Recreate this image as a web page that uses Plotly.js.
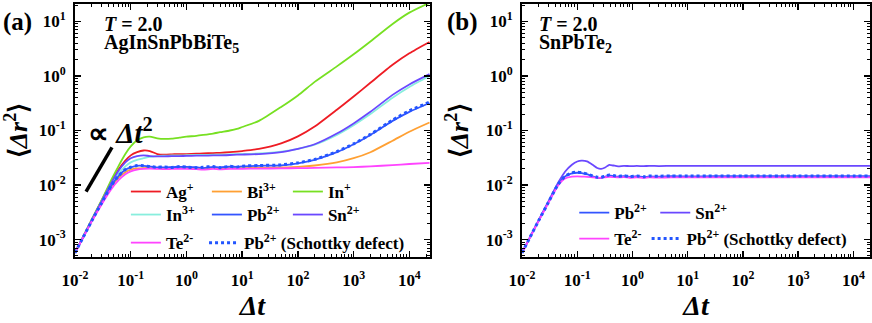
<!DOCTYPE html>
<html>
<head>
<meta charset="utf-8">
<script src="https://cdn.plot.ly/plotly-3.0.1.min.js"></script>
<style>
  html, body { margin: 0; padding: 0; background: #fff; }
  #chart { width: 872px; height: 323px; }
</style>
</head>
<body>
<div id="chart"></div>
<script>
// time grid, panel (a)
const tA = [0.01, 0.015, 0.02, 0.03, 0.045, 0.06, 0.08, 0.1, 0.13, 0.17, 0.22, 0.3, 0.4, 0.55, 0.75, 1, 1.5, 2, 3, 4, 6, 8, 10, 20, 50, 100, 200, 500, 1000, 2000, 5000, 10000, 23000];

const agA = [5.7e-4, 1.28e-3, 2.3e-3, 5.1e-3, 0.0115, 0.019, 0.028, 0.035, 0.040, 0.043, 0.042, 0.037, 0.036, 0.0365, 0.037, 0.037, 0.0375, 0.038, 0.0385, 0.039, 0.040, 0.041, 0.042, 0.046, 0.058, 0.078, 0.118, 0.24, 0.42, 0.75, 1.6, 2.6, 4.2];
const biA = [5.7e-4, 1.26e-3, 2.2e-3, 4.6e-3, 0.0093, 0.0135, 0.0172, 0.0192, 0.0202, 0.0205, 0.0205, 0.0203, 0.0203, 0.0204, 0.0204, 0.0205, 0.0204, 0.0203, 0.0204, 0.0204, 0.0205, 0.0205, 0.0205, 0.0206, 0.021, 0.0215, 0.0228, 0.026, 0.031, 0.040, 0.065, 0.095, 0.14];
const in1A = [5.7e-4, 1.3e-3, 2.35e-3, 5.3e-3, 0.0125, 0.022, 0.037, 0.051, 0.066, 0.075, 0.077, 0.072, 0.070, 0.071, 0.074, 0.077, 0.080, 0.083, 0.088, 0.093, 0.100, 0.107, 0.116, 0.15, 0.27, 0.44, 0.78, 1.5, 2.5, 4.3, 9.0, 14.5, 22];
const in3A = [5.7e-4, 1.27e-3, 2.25e-3, 4.9e-3, 0.0105, 0.016, 0.022, 0.026, 0.029, 0.031, 0.033, 0.034, 0.0345, 0.035, 0.035, 0.0352, 0.0355, 0.0357, 0.036, 0.036, 0.0365, 0.037, 0.0372, 0.038, 0.041, 0.046, 0.055, 0.083, 0.125, 0.2, 0.40, 0.63, 1.0];
const pbA = [5.7e-4, 1.26e-3, 2.2e-3, 4.7e-3, 0.0098, 0.0145, 0.019, 0.021, 0.0225, 0.0225, 0.022, 0.021, 0.021, 0.0213, 0.0215, 0.0215, 0.0212, 0.0205, 0.0215, 0.021, 0.0218, 0.0215, 0.022, 0.0225, 0.023, 0.025, 0.029, 0.040, 0.056, 0.083, 0.15, 0.22, 0.32];
const snA = [5.7e-4, 1.27e-3, 2.26e-3, 5.0e-3, 0.011, 0.018, 0.026, 0.031, 0.034, 0.035, 0.034, 0.0335, 0.0335, 0.034, 0.034, 0.0342, 0.0345, 0.0345, 0.035, 0.035, 0.0355, 0.036, 0.0362, 0.037, 0.040, 0.046, 0.056, 0.088, 0.135, 0.22, 0.45, 0.70, 1.08];
const teA = [5.7e-4, 1.25e-3, 2.15e-3, 4.4e-3, 0.0085, 0.0122, 0.0158, 0.0178, 0.0192, 0.0198, 0.02, 0.0198, 0.0196, 0.0197, 0.0198, 0.0198, 0.0195, 0.0192, 0.0197, 0.0194, 0.0198, 0.0197, 0.0198, 0.02, 0.0202, 0.0204, 0.0206, 0.021, 0.0213, 0.022, 0.0232, 0.0243, 0.0255];
const pbsA = [5.7e-4, 1.26e-3, 2.2e-3, 4.7e-3, 0.0098, 0.0146, 0.0192, 0.0212, 0.0228, 0.0226, 0.0218, 0.0212, 0.0215, 0.021, 0.0218, 0.0213, 0.0208, 0.0212, 0.0218, 0.0208, 0.022, 0.0214, 0.0222, 0.0228, 0.0234, 0.0255, 0.0295, 0.041, 0.057, 0.085, 0.155, 0.23, 0.33];

// time grid, panel (b)
const tB = [0.01, 0.015, 0.02, 0.03, 0.045, 0.06, 0.08, 0.1, 0.12, 0.15, 0.19, 0.23, 0.27, 0.32, 0.38, 0.45, 0.55, 0.7, 0.9, 1.2, 1.6, 2, 3, 5, 10, 30, 100, 1000, 10000, 23000];

const snB = [5.7e-4, 1.28e-3, 2.28e-3, 5.0e-3, 0.011, 0.0175, 0.0235, 0.027, 0.028, 0.0272, 0.0235, 0.0205, 0.0198, 0.021, 0.0235, 0.0228, 0.022, 0.0225, 0.0222, 0.0224, 0.0222, 0.0225, 0.0223, 0.0224, 0.0224, 0.0224, 0.0224, 0.0224, 0.0224, 0.0224];
const pbB = [5.7e-4, 1.27e-3, 2.22e-3, 4.8e-3, 0.0102, 0.0143, 0.0163, 0.0168, 0.0166, 0.0158, 0.0145, 0.0136, 0.0135, 0.0142, 0.015, 0.0146, 0.0142, 0.0146, 0.0141, 0.0145, 0.0139, 0.0144, 0.0142, 0.0145, 0.0144, 0.0145, 0.0145, 0.0145, 0.0145, 0.0145];
const teB = [5.7e-4, 1.26e-3, 2.2e-3, 4.7e-3, 0.0098, 0.0132, 0.0143, 0.0144, 0.0143, 0.0141, 0.0138, 0.0136, 0.0136, 0.0139, 0.0141, 0.014, 0.0138, 0.014, 0.0136, 0.0139, 0.0135, 0.0138, 0.0137, 0.0138, 0.0138, 0.0138, 0.0138, 0.0138, 0.0138, 0.0138];
const pbsB = [5.7e-4, 1.27e-3, 2.22e-3, 4.8e-3, 0.0103, 0.0145, 0.0167, 0.0172, 0.0169, 0.016, 0.0147, 0.0139, 0.0138, 0.0146, 0.0153, 0.0149, 0.0144, 0.0148, 0.0143, 0.0147, 0.0142, 0.0146, 0.0145, 0.0147, 0.0147, 0.0147, 0.0147, 0.0147, 0.0147, 0.0147];

const xTickVals = [0.01, 0.1, 1, 10, 100, 1000, 10000];
const xTickText = ['10<sup>-2</sup>', '10<sup>-1</sup>', '10<sup>0</sup>', '10<sup>1</sup>', '10<sup>2</sup>', '10<sup>3</sup>', '10<sup>4</sup>'];
const yTickVals = [0.001, 0.01, 0.1, 1, 10];
const yTickText = ['10<sup>-3</sup>', '10<sup>-2</sup>', '10<sup>-1</sup>', '10<sup>0</sup>', '10<sup>1</sup>'];

const FONT = 'Liberation Serif, Times New Roman, serif';
const C = {
  ag: '#ee1c24', bi: '#ffa033', in1: '#77e022', in3: '#88eedd',
  pb: '#3355ff', sn: '#6a48ff', te: '#ff44ff', pbs: '#2255ff'
};

function line(x, y, name, color, xa, ya, legend, dash) {
  return {
    x: x, y: y, name: name, type: 'scatter', mode: 'lines',
    xaxis: xa, yaxis: ya, legend: legend,
    line: { color: color, width: dash ? 3 : 1.8, dash: dash || 'solid', shape: 'spline', smoothing: 0.6 },
    hoverinfo: 'skip'
  };
}

const traces = [
  line(tA, agA, 'Ag<sup>+</sup>', C.ag, 'x', 'y', 'legend'),
  line(tA, biA, 'Bi<sup>3+</sup>', C.bi, 'x', 'y', 'legend'),
  line(tA, in1A, 'In<sup>+</sup>', C.in1, 'x', 'y', 'legend'),
  line(tA, in3A, 'In<sup>3+</sup>', C.in3, 'x', 'y', 'legend2'),
  line(tA, pbA, 'Pb<sup>2+</sup>', C.pb, 'x', 'y', 'legend2'),
  line(tA, snA, 'Sn<sup>2+</sup>', C.sn, 'x', 'y', 'legend2'),
  line(tA, teA, 'Te<sup>2-</sup>', C.te, 'x', 'y', 'legend3'),
  line(tA, pbsA, 'Pb<sup>2+</sup> (Schottky defect)', C.pbs, 'x', 'y', 'legend6', 'dot'),
  line(tB, pbB, 'Pb<sup>2+</sup>', C.pb, 'x2', 'y2', 'legend4'),
  line(tB, snB, 'Sn<sup>2+</sup>', C.sn, 'x2', 'y2', 'legend4'),
  line(tB, teB, 'Te<sup>2-</sup>', C.te, 'x2', 'y2', 'legend5'),
  line(tB, pbsB, 'Pb<sup>2+</sup> (Schottky defect)', C.pbs, 'x2', 'y2', 'legend7', 'dot')
];

const tickFont = { family: FONT, size: 17, weight: 'bold', color: '#000' };
const minor = { ticks: 'inside', ticklen: 3, tickcolor: '#000', tickwidth: 1, dtick: 'D1', showgrid: false };

function xAxis(domain, range) {
  return {
    type: 'log', domain: domain, range: range,
    tickvals: xTickVals, ticktext: xTickText, tickfont: tickFont, ticklabelstandoff: 7,
    ticks: 'inside', ticklen: 6, tickwidth: 1.5, tickcolor: '#000',
    showline: true, linewidth: 2, linecolor: '#000', mirror: 'ticks',
    showgrid: false, zeroline: false, minor: minor,
    title: { text: '<i>Δt</i>', font: { family: FONT, size: 28, weight: 'bold' }, standoff: 4 }
  };
}
function yAxis(anchor) {
  return {
    type: 'log', anchor: anchor, domain: [0, 1], range: [-3.32, 1.32],
    tickvals: yTickVals, ticktext: yTickText, tickfont: tickFont, ticklabelstandoff: 4,
    ticks: 'inside', ticklen: 6, tickwidth: 1.5, tickcolor: '#000',
    showline: true, linewidth: 2, linecolor: '#000', mirror: 'ticks',
    showgrid: false, zeroline: false, minor: minor,
    title: { text: '⟨<i>Δr</i><sup>2</sup>⟩', font: { family: FONT, size: 26, weight: 'bold' }, standoff: 10 }
  };
}

function legendBox(x, y, w) {
  const lg = {
    orientation: 'h', x: x, y: y, xanchor: 'left', yanchor: 'middle',
    bgcolor: 'rgba(0,0,0,0)', borderwidth: 0,
    font: { family: FONT, size: 17, weight: 'bold', color: '#000' }, itemwidth: 30
  };
  if (w) { lg.entrywidth = w; lg.entrywidthmode = 'pixels'; }
  return lg;
}

const annFont = (s) => ({ family: FONT, size: s, weight: 'bold', color: '#000' });

const layout = {
  width: 872, height: 323,
  margin: { l: 75, r: 2, t: 4, b: 66 },
  paper_bgcolor: '#fff', plot_bgcolor: '#fff',
  font: { family: FONT, weight: 'bold', color: '#000' },
  xaxis: xAxis([0, 0.4465], [-2, 4.37]),
  yaxis: yAxis('x'),
  xaxis2: xAxis([0.5623, 1], [-2, 4.30]),
  yaxis2: yAxis('x2'),
  legend: legendBox(0.064, 0.257, 36),
  legend2: legendBox(0.064, 0.166, 36),
  legend3: legendBox(0.064, 0.055),
  legend6: legendBox(0.1623, 0.055),
  legend4: legendBox(0.628, 0.174, 36),
  legend5: legendBox(0.628, 0.071),
  legend7: legendBox(0.719, 0.071),
  shapes: [
    { type: 'line', xref: 'x', yref: 'y', x0: 0.0158, y0: 0.0076, x1: 0.0461, y1: 0.049, line: { color: '#000', width: 3.5 } }
  ],
  annotations: [
    { text: '(a)', xref: 'paper', yref: 'paper', x: -0.0717, y: 0.929, xanchor: 'center', yanchor: 'middle', showarrow: false, font: annFont(25) },
    { text: '(b)', xref: 'paper', yref: 'paper', x: 0.487, y: 0.929, xanchor: 'center', yanchor: 'middle', showarrow: false, font: annFont(25) },
    { text: '<i>T</i> = 2.0', xref: 'x domain', yref: 'y domain', x: 0.076, y: 0.92, xanchor: 'left', yanchor: 'middle', showarrow: false, font: annFont(20) },
    { text: 'AgInSnPbBiTe<sub>5</sub>', xref: 'x domain', yref: 'y domain', x: 0.076, y: 0.842, xanchor: 'left', yanchor: 'middle', showarrow: false, font: annFont(20) },
    { text: '∝ <i>Δt</i><sup>2</sup>', xref: 'x domain', yref: 'y domain', x: 0.03, y: 0.50, xanchor: 'left', yanchor: 'middle', showarrow: false, font: annFont(29) },
    { text: '<i>T</i> = 2.0', xref: 'x2 domain', yref: 'y2 domain', x: 0.043, y: 0.92, xanchor: 'left', yanchor: 'middle', showarrow: false, font: annFont(20) },
    { text: 'SnPbTe<sub>2</sub>', xref: 'x2 domain', yref: 'y2 domain', x: 0.043, y: 0.842, xanchor: 'left', yanchor: 'middle', showarrow: false, font: annFont(20) }
  ]
};

Plotly.newPlot('chart', traces, layout, { displayModeBar: false, staticPlot: true });
</script>
</body>
</html>
